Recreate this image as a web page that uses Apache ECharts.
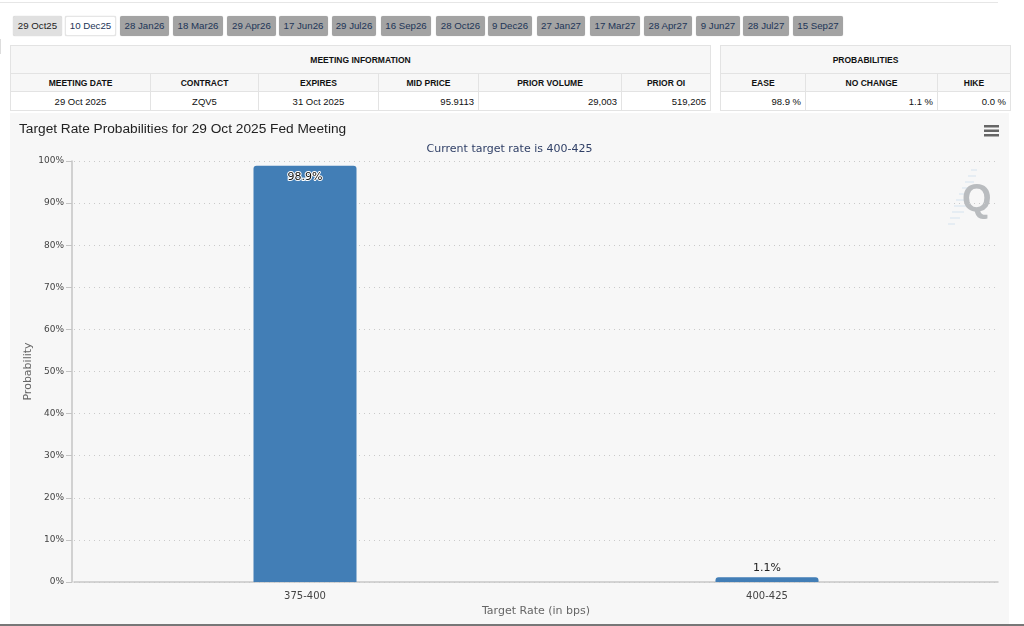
<!DOCTYPE html>
<html><head><meta charset="utf-8">
<script src="https://cdn.jsdelivr.net/npm/echarts@6/dist/echarts.min.js"></script>
<style>
html,body{margin:0;padding:0;background:#fff;width:1024px;height:626px;overflow:hidden;font-family:"Liberation Sans",Arial,sans-serif}
.top{position:absolute;left:0;top:2px;width:998px;height:1px;background:#e6e6e6}
.bottom{position:absolute;left:0;top:624px;width:1024px;height:2px;background:#777}
.nub{position:absolute;left:0;top:39px;width:1px;height:15px;background:#ddd}
.tab{position:absolute;top:16px;height:20px;line-height:20px;text-align:center;font-size:9.7px;border-radius:2px;background:#a3a3a3;color:#1d3557;box-shadow:0 0 1px #bbb;white-space:nowrap}
.tab.a{background:#e0e0e0;color:#222}
.tab.w{background:#fff;color:#1d3557;border:1px solid #e6e6e6;box-sizing:border-box;line-height:18px}
table{position:absolute;top:45px;border-collapse:collapse;table-layout:fixed;font-size:9.5px;color:#111}
td{border:1px solid #e3e3e3;padding:0 4px;text-align:center;box-sizing:border-box;overflow:hidden;white-space:nowrap}
tr.h0 td{height:28px;background:#f7f7f7;font-weight:bold;font-size:8.5px}
tr.h1 td{height:18px;background:#f7f7f7;font-weight:bold;font-size:8.5px}
tr.r td{height:19px;background:#fff}
td.n{text-align:right}
#chart{position:absolute;left:10px;top:113px;width:999px;height:511px}
</style></head><body>
<div class="top"></div><div class="nub"></div>
<div id="tabs"></div>
<table id="t1" style="left:10px;width:700px"></table>
<table id="t2" style="left:720px;width:290px"></table>
<div id="chart"></div>
<div class="bottom"></div>
<script>
const meetingTabs = ["29 Oct25","10 Dec25","28 Jan26","18 Mar26","29 Apr26","17 Jun26","29 Jul26","16 Sep26","28 Oct26","9 Dec26","27 Jan27","17 Mar27","28 Apr27","9 Jun27","28 Jul27","15 Sep27"];
const tabLeft = [13,65,120,173,227,279,332,381,436,488,537,590,644,696,743,793];
const tabWidth = [49,51,49,50,49,49,44,50,49,44,48,50,48,44,46,50];
const infoTitle = "MEETING INFORMATION";
const infoHead = ["MEETING DATE","CONTRACT","EXPIRES","MID PRICE","PRIOR VOLUME","PRIOR OI"];
const infoRow = ["29 Oct 2025","ZQV5","31 Oct 2025","95.9113","29,003","519,205"];
const infoWidths = [140,108,120,100,143,89];
const infoNumeric = [false,false,false,true,true,true];
const probTitle = "PROBABILITIES";
const probHead = ["EASE","NO CHANGE","HIKE"];
const probRow = ["98.9 %","1.1 %","0.0 %"];
const probWidths = [85,132,73];
const categories = ["375-400","400-425"];
const probabilities = [98.9,1.1];

document.getElementById('tabs').innerHTML = meetingTabs.map((t,i)=>
  `<div class="tab${i===0?' a':i===1?' w':''}" style="left:${tabLeft[i]}px;width:${tabWidth[i]}px">${t}</div>`).join('');
function table(id,title,head,row,widths,numeric){
  document.getElementById(id).innerHTML =
    `<colgroup>${widths.map(w=>`<col style="width:${w}px">`).join('')}</colgroup>`+
    `<tr class="h0"><td colspan="${head.length}">${title}</td></tr>`+
    `<tr class="h1">${head.map(h=>`<td>${h}</td>`).join('')}</tr>`+
    `<tr class="r">${row.map((c,i)=>`<td class="${numeric[i]?'n':''}">${c}</td>`).join('')}</tr>`;
}
table('t1',infoTitle,infoHead,infoRow,infoWidths,infoNumeric);
table('t2',probTitle,probHead,probRow,probWidths,[true,true,true]);

const stripes = [[961,57,967],[958,63,966],[955,69,964],[952,75,962],[949,81,960],[946,87,958],[944,93,956],[942,99,954],[940,105,950],[938,111,945]];
const chart = echarts.init(document.getElementById('chart'),null,{renderer:'canvas'});
const labelFont = '"DejaVu Sans",sans-serif';
chart.setOption({
  backgroundColor:'#f7f7f7',
  animation:false,
  title:[
    {text:'Target Rate Probabilities for 29 Oct 2025 Fed Meeting',left:9,top:9,padding:0,textStyle:{fontFamily:'"Liberation Sans",Arial,sans-serif',fontSize:13.7,fontWeight:'normal',color:'#222'}},
    {text:'Current target rate is 400-425',left:'center',top:31,padding:0,textStyle:{fontFamily:labelFont,fontSize:11,fontWeight:'normal',color:'#2f3f66'}}
  ],
  grid:{left:64,right:11,top:48,bottom:42,outerBoundsMode:'none'},
  xAxis:{type:'category',data:categories,
    name:'Target Rate (in bps)',nameLocation:'middle',nameGap:24,nameMoveOverlap:false,
    nameTextStyle:{fontFamily:labelFont,fontSize:11,color:'#666'},
    axisLine:{lineStyle:{color:'#c8c8c8',width:1.5}},
    axisTick:{alignWithLabel:true,length:7,lineStyle:{color:'#d0d0d0'},interval:0},
    axisLabel:{fontFamily:labelFont,fontSize:10,color:'#444',margin:9}},
  yAxis:{type:'value',min:0,max:100,interval:10,offset:2,
    name:'Probability',nameLocation:'middle',nameGap:38,nameMoveOverlap:false,
    nameTextStyle:{fontFamily:labelFont,fontSize:11,color:'#666'},
    axisLine:{show:true,lineStyle:{color:'#c4c4c4',width:1.5}},
    axisTick:{show:true,length:6,lineStyle:{color:'#c4c4c4'}},
    axisLabel:{fontFamily:labelFont,fontSize:9,color:'#444',margin:8,formatter:'{value}%'},
    splitLine:{lineStyle:{type:[1,4],color:'#cacaca',width:1}}},
  series:[{type:'bar',barWidth:103,
    data:[
      {value:probabilities[0],label:{position:'insideTop',distance:6,color:'#111',textBorderColor:'#fff',textBorderWidth:2}},
      {value:probabilities[1]}
    ],
    itemStyle:{color:'#427eb6',borderRadius:[3,3,0,0]},
    label:{show:true,position:'top',distance:4,formatter:p=>p.value+'%',fontFamily:labelFont,fontSize:11,color:'#222'}
  }],
  graphic:[
    {type:'rect',left:974,top:12,shape:{width:15,height:2.5},style:{fill:'#666'},silent:true},
    {type:'rect',left:974,top:16.5,shape:{width:15,height:2.5},style:{fill:'#666'},silent:true},
    {type:'rect',left:974,top:21,shape:{width:15,height:2.5},style:{fill:'#666'},silent:true},
    ...stripes.map(s=>({type:'line',shape:{x1:s[0],y1:s[1],x2:s[2],y2:s[1]},style:{stroke:'#e6edf3',lineWidth:2},silent:true})),
    {type:'text',x:952,y:69,style:{text:'Q',font:'bold 38px "Liberation Sans",sans-serif',fill:'#b9bcbf'},silent:true}
  ]
});
</script></body></html>
